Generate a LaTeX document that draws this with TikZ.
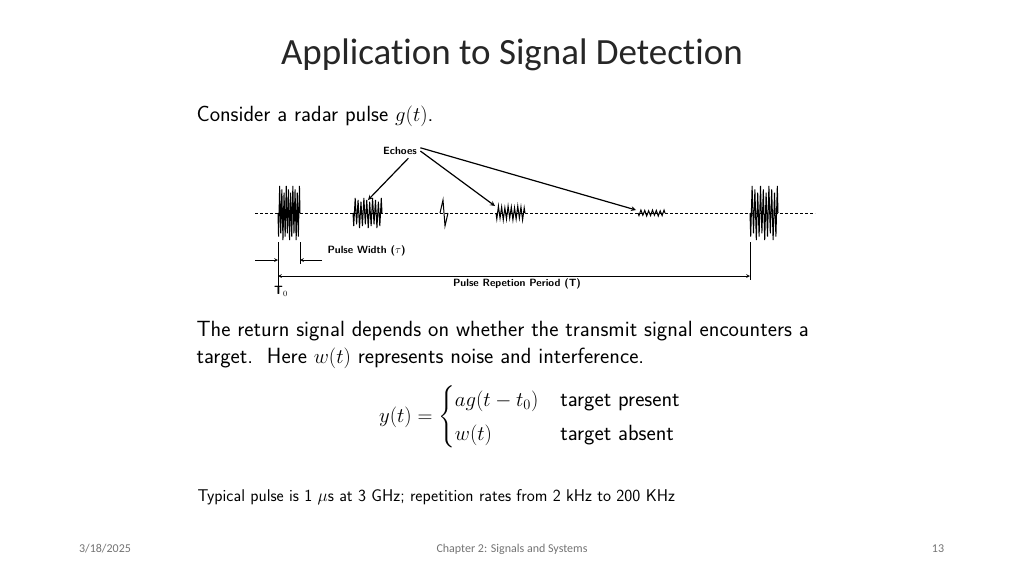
\documentclass[tikz,border=0pt]{standalone}
\usepackage{amsmath}
\usepackage{fontspec}
\newfontfamily\calibri[Ligatures=NoCommon]{Carlito}
\usetikzlibrary{calc,positioning}
\tikzset{
  burst/.style={line width=1pt},
  dim/.style={line width=0.7pt},
  small/.style={font=\sffamily\bfseries\fontsize{10.5}{12}\selectfont},
  body/.style={font=\sffamily\fontsize{22}{27}\selectfont, anchor=west},
  foot/.style={font=\calibri\fontsize{12}{14}\selectfont, text=gray!90!black}
}
% zigzag burst: x0, width, half height, strokes
\newcommand{\burstat}[4]{%
  \draw[burst] (#1,213) \foreach \i in {1,...,#4}{ -- ($(#1,213)+(\i*#2/#4-#2/#4/2,{(2*mod(\i,2)-1)*#3*(0.75+0.25*mod(\i,3)/2)})$) } -- (#1+#2,213);}
\begin{document}
\begin{tikzpicture}[x=1pt,y=-1pt]
  \useasboundingbox (0,0) rectangle (1024,576);
  % title and text
  \node[font=\calibri\fontsize{37}{40}\selectfont, text=black!85] (title) at (512,55) {Application to Signal Detection};
  \node[body] (intro) at (193,116) {Consider a radar pulse $g(t)$.};
  % base line
  \draw[dashed, dash pattern=on 3pt off 2pt] (255,213) -- (815,213);
  \burstat{278}{22}{27}{20}
  \burstat{353}{29}{15}{20}
  \burstat{496}{29}{7}{18}
  \burstat{638}{27}{3}{14}
  \burstat{750}{28}{27}{20}
  \draw[burst] (440,213) -- (443,200) -- (445,226) -- (448,213);
  % echoes
  \coordinate (e1) at (368,200);
  \coordinate (e2) at (495,206);
  \coordinate (e3) at (636,210);
  \node[small] (echoes) at (400,151) {Echoes};
  \draw[-stealth, line width=1.2pt] (echoes.south east) ++(-12,0) -- (e1);
  \draw[-stealth, line width=1.2pt] (echoes.east) -- (e2);
  \draw[-stealth, line width=1.2pt] (echoes.north east) ++(0,4) -- (e3);
  % dimensions
  \coordinate (p0) at (278,242);
  \coordinate (p1) at (300,242);
  \coordinate (pT) at (750,242);
  \draw[dim] (p0) -- ++(0,48);
  \draw[dim] (p1) -- ++(0,22);
  \draw[dim] (pT) -- ++(0,38);
  \coordinate (wl) at (255,260);
  \coordinate (wr) at (322,260);
  \draw[dim, -stealth] (wl) -- (wl -| p0);
  \draw[dim, -stealth] (wr) -- (wr -| p1);
  \node[small, anchor=west] (width) at (324,251) {Pulse Width ($\tau$)};
  \coordinate (per) at (278,276);
  \draw[dim, stealth-stealth] (per) -- (per -| pT);
  \node[small] (period) at (517,284) {Pulse Repetion Period (T)};
  \node[small, font=\sffamily\bfseries\fontsize{12}{13}\selectfont] (t0) at (281,291) {T$_0$};
  % return signal
  \node[body, align=left] (ret) at (193,345) {The return signal depends on whether the transmit signal encounters a\\ target.\ \ Here $w(t)$ represents noise and interference.};
  \node[font=\sffamily\fontsize{22}{27}\selectfont] (eqn) at (530,417)
    {$y(t)=\begin{cases} ag(t-t_0) & \text{target present}\\[2pt] w(t) & \text{target absent}\end{cases}$};
  \node[body, font=\sffamily\fontsize{17}{20}\selectfont] (typ) at (194,497) {Typical pulse is 1 $\mu$s at 3 GHz; repetition rates from 2 kHz to 200 KHz};
  % footer
  \node[foot] (date) at (105,549) {3/18/2025};
  \node[foot] (chap) at (512,549) {Chapter 2: Signals and Systems};
  \node[foot] (page) at (938,549) {13};
\end{tikzpicture}
\end{document}
